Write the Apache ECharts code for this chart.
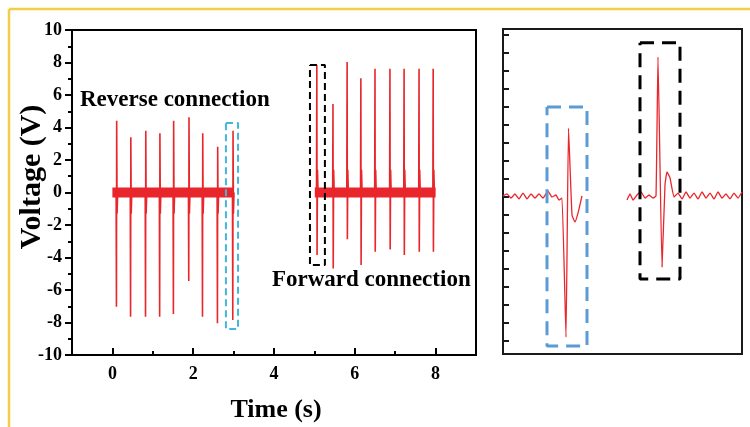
<!DOCTYPE html>
<html><head><meta charset="utf-8">
<script src="https://cdn.jsdelivr.net/npm/echarts@6/dist/echarts.min.js"></script>
<style>html,body{margin:0;padding:0;background:#fff}#c{width:750px;height:427px}</style>
</head><body><div id="c"></div>
<script>
// ---- main panel data (time in s, voltage in V) ----
const reverseTimes   = [0.10, 0.45, 0.82, 1.17, 1.51, 1.89, 2.23, 2.60, 2.98];
const reversePeaks   = [4.42, 3.40, 3.80, 3.64, 4.42, 4.63, 3.64, 2.82, 3.80];
const reverseTroughs = [-7.03, -7.64, -7.64, -7.64, -7.48, -5.45, -7.64, -8.05, -7.85];
const reverseAfterDip = -1.3;
const forwardTimes   = [5.06, 5.46, 5.81, 6.15, 6.50, 6.87, 7.22, 7.59, 7.94];
const forwardPeaks   = [7.85, 5.45, 8.03, 7.03, 7.62, 7.62, 7.62, 7.62, 7.62];
const forwardTroughs = [-3.85, -4.67, -2.88, -4.46, -3.64, -3.50, -3.85, -3.64, -3.64];
const forwardAfterBump = 1.4;
const reverseBand = [0.0, 3.0];
const forwardBand = [5.01, 8.0];
const xTickValues = [0, 2, 4, 6, 8];
const xMinorTickValues = [1, 3, 5, 7];
const blueBoxMain  = [2.81, 3.11, -8.40, 4.28];   // x0, x1, y0, y1
const blackBoxMain = [4.89, 5.26, -4.46, 7.85];

// ---- zoomed panel data (sample index, voltage in V) ----
const zoomBlueX = [0, 4, 8, 12, 16, 20, 24, 28, 32, 36, 40, 45, 49, 53, 56, 59, 63, 65.5, 69, 72, 75, 79];
const zoomBlueY = [0.06, 0.17, -0.06, 0.17, -0.11, 0.22, -0.11, 0.17, -0.06, 0.17, -0.06, 0.33, 0, 0.11, -0.17, -0.06, -7.78, 3.83, -1.0, -1.39, -0.9, 0.06];
const zoomBlackX = [124, 127, 130, 134, 138, 142, 146, 150, 153, 155, 159, 162, 164, 167, 171, 175, 179, 183, 187, 191, 195, 199, 203, 207, 211, 215, 219, 223, 227, 231, 235, 239];
const zoomBlackY = [-0.17, 0.17, -0.17, 0.11, 0.28, -0.06, 0.11, -0.06, 0.06, 7.78, -3.89, 0.67, 1.39, 1.06, 0, 0.22, -0.11, 0.28, -0.06, 0.22, -0.11, 0.28, -0.06, 0.22, -0.11, 0.28, -0.06, 0.17, -0.11, 0.22, -0.06, 0.28];
const zoomTickValues = [-8, -7, -6, -5, -4, -3, -2, -1, 0, 1, 2, 3, 4, 5, 6, 7, 8, 9];
const blueBoxZoom  = [44, 84, -8.28, 5.0];
const blackBoxZoom = [137, 177, -4.56, 8.56];

const RED = '#e8262b';
const FONT = 'Liberation Serif';

function reverseLine() {
  const d = [];
  reverseTimes.forEach((t, i) => {
    d.push([t - 0.008, 0], [t, reverseTroughs[i]], [t + 0.006, reversePeaks[i]],
           [t + 0.016, reverseAfterDip], [t + 0.03, 0]);
  });
  return d;
}
function forwardLine() {
  const d = [];
  forwardTimes.forEach((t, i) => {
    d.push([t - 0.008, 0], [t, forwardPeaks[i]], [t + 0.006, forwardTroughs[i]],
           [t + 0.016, forwardAfterBump], [t + 0.03, 0]);
  });
  return d;
}
function boxData(b) {
  return [[b[0], b[3]], [b[1], b[3]], [b[1], b[2]], [b[0], b[2]], [b[0], b[3]]];
}
function zip(xs, ys) { return xs.map((x, i) => [x, ys[i]]); }

const chart = echarts.init(document.getElementById('c'), null, {renderer: 'canvas'});
const labelStyle = {fontFamily: FONT, fontWeight: 'bold', fontSize: 18, color: '#000'};

chart.setOption({
  backgroundColor: '#ffffff',
  animation: false,
  grid: [
    {left: 72, top: 30, width: 404, height: 325, show: true, borderColor: '#000', borderWidth: 2, backgroundColor: 'transparent'},
    {left: 503, top: 29, width: 239, height: 325, show: true, borderColor: '#1a1a1a', borderWidth: 2, backgroundColor: 'transparent'}
  ],
  xAxis: [
    {gridIndex: 0, type: 'value', min: -1, max: 9, position: 'bottom',
     axisLine: {show: true, onZero: false, lineStyle: {color: '#000', width: 2}},
     axisTick: {show: true, inside: true, length: 7, customValues: xTickValues, lineStyle: {color: '#000', width: 2}},
     axisLabel: Object.assign({show: true, margin: 10, customValues: xTickValues}, labelStyle),
     splitLine: {show: false}},
    {gridIndex: 0, type: 'value', min: -1, max: 9, position: 'bottom',
     axisLine: {show: false, onZero: false},
     axisTick: {show: true, inside: true, length: 4, customValues: xMinorTickValues, lineStyle: {color: '#000', width: 2}},
     axisLabel: {show: false}, splitLine: {show: false}},
    {gridIndex: 1, type: 'value', min: 0, max: 239, show: false}
  ],
  yAxis: [
    {gridIndex: 0, type: 'value', min: -10, max: 10, interval: 2,
     axisLine: {show: true, onZero: false, lineStyle: {color: '#000', width: 2}},
     axisTick: {show: true, inside: false, length: 7, lineStyle: {color: '#000', width: 2}},
     minorTick: {show: true, splitNumber: 2, length: 4, lineStyle: {color: '#000', width: 2}},
     axisLabel: Object.assign({show: true, margin: 10}, labelStyle),
     splitLine: {show: false}},
    {gridIndex: 1, type: 'value', min: -8.72, max: 9.33,
     axisLine: {show: true, onZero: false, lineStyle: {color: '#1a1a1a', width: 2}},
     axisTick: {show: true, inside: true, length: 6, customValues: zoomTickValues, lineStyle: {color: '#1a1a1a', width: 2}},
     axisLabel: {show: false}, splitLine: {show: false}}
  ],
  series: [
    {type: 'line', xAxisIndex: 0, yAxisIndex: 0, data: [[reverseBand[0], 0], [reverseBand[1], 0]], showSymbol: false,
     lineStyle: {color: RED, width: 10}},
    {type: 'line', xAxisIndex: 0, yAxisIndex: 0, data: [[forwardBand[0], 0], [forwardBand[1], 0]], showSymbol: false,
     lineStyle: {color: RED, width: 10}},
    {type: 'line', xAxisIndex: 0, yAxisIndex: 0, data: reverseLine(), showSymbol: false,
     lineStyle: {color: RED, width: 1.6}},
    {type: 'line', xAxisIndex: 0, yAxisIndex: 0, data: forwardLine(), showSymbol: false,
     lineStyle: {color: RED, width: 1.6}},
    {type: 'line', xAxisIndex: 0, yAxisIndex: 0, data: boxData(blueBoxMain), showSymbol: false, z: 5,
     lineStyle: {color: '#45b6d6', width: 2, type: [7, 4]}},
    {type: 'line', xAxisIndex: 0, yAxisIndex: 0, data: boxData(blackBoxMain), showSymbol: false, z: 5,
     lineStyle: {color: '#000', width: 2, type: [7, 4]}},
    {type: 'line', xAxisIndex: 2, yAxisIndex: 1, data: zip(zoomBlueX, zoomBlueY), showSymbol: false, smooth: 0.12,
     lineStyle: {color: RED, width: 1.3}},
    {type: 'line', xAxisIndex: 2, yAxisIndex: 1, data: zip(zoomBlackX, zoomBlackY), showSymbol: false, smooth: 0.12,
     lineStyle: {color: RED, width: 1.3}},
    {type: 'line', xAxisIndex: 2, yAxisIndex: 1, data: boxData(blueBoxZoom), showSymbol: false, z: 5,
     lineStyle: {color: '#5b9bd5', width: 3, type: [14, 8]}},
    {type: 'line', xAxisIndex: 2, yAxisIndex: 1, data: boxData(blackBoxZoom), showSymbol: false, z: 5,
     lineStyle: {color: '#000', width: 3, type: [14, 8]}}
  ],
  graphic: [
    {type: 'line', shape: {x1: 9, y1: 9, x2: 750, y2: 9}, style: {stroke: '#f0cf45', lineWidth: 2.5}},
    {type: 'line', shape: {x1: 9, y1: 9, x2: 9, y2: 427}, style: {stroke: '#f0cf45', lineWidth: 2.5}},
    {type: 'text', x: 80, y: 100, style: {text: 'Reverse connection', font: 'bold 23px "Liberation Serif"', fill: '#000', textAlign: 'left', textVerticalAlign: 'middle'}},
    {type: 'text', x: 272, y: 280, style: {text: 'Forward connection', font: 'bold 23px "Liberation Serif"', fill: '#000', textAlign: 'left', textVerticalAlign: 'middle'}},
    {type: 'text', x: 276, y: 410, style: {text: 'Time (s)', font: 'bold 26px "Liberation Serif"', fill: '#000', textAlign: 'center', textVerticalAlign: 'middle'}},
    {type: 'text', x: 32, y: 177, rotation: Math.PI / 2, style: {text: 'Voltage (V)', font: 'bold 30px "Liberation Serif"', fill: '#000', textAlign: 'center', textVerticalAlign: 'middle'}}
  ]
});
</script></body></html>
